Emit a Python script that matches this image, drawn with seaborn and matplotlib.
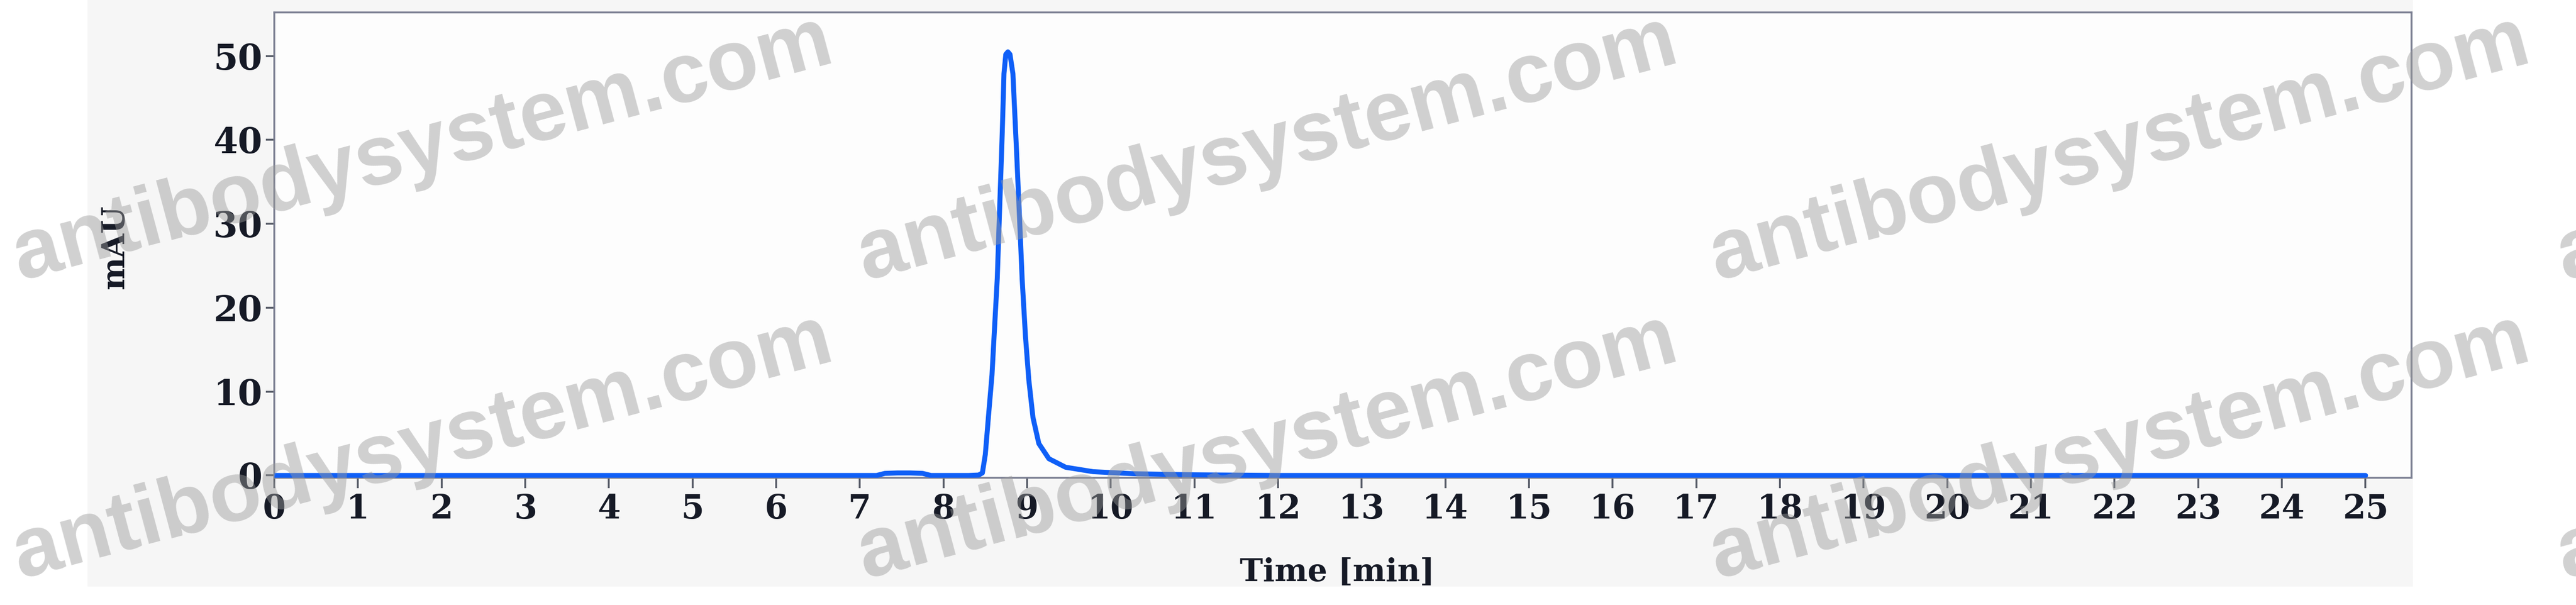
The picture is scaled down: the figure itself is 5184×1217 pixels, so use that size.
import matplotlib
matplotlib.use("Agg")
import matplotlib.pyplot as plt
from matplotlib.patches import Rectangle
import seaborn as sns
import pandas as pd

# ---- data ----
time_min = [0.0, 7.20, 7.30, 7.45, 7.60, 7.75, 7.85, 8.30, 8.42, 8.465, 8.50,
            8.545, 8.58, 8.605, 8.643, 8.673, 8.703, 8.723, 8.745, 8.77, 8.795,
            8.83, 8.871, 8.91, 8.94, 8.98, 9.02, 9.07, 9.14, 9.26, 9.46, 9.79,
            10.29, 11.0, 12.0, 25.0]
mau = [0.0, 0.0, 0.25, 0.30, 0.30, 0.25, 0.0, 0.0, 0.05, 0.3, 2.5,
       7.9, 12.0, 16.6, 23.5, 32.3, 41.0, 47.9, 50.2, 50.5, 50.2,
       47.9, 39.2, 30.5, 23.5, 16.6, 11.4, 6.9, 3.8, 2.0, 0.98, 0.45,
       0.2, 0.08, 0.0, 0.0]
x_ticks = list(range(0, 26))
y_ticks = [0, 10, 20, 30, 40, 50]
x_label = "Time [min]"
y_label = "mAU"
watermark = "antibodysystem.com"

df = pd.DataFrame({"time": time_min, "mau": mau})

sns.set_theme(style="white")
plt.rcParams["font.family"] = ["DejaVu Serif"]

W, H, DPI = 5184, 1217, 300
fig = plt.figure(figsize=(W / DPI, H / DPI), dpi=DPI, facecolor="white")

# light grey backdrop behind the chart area
fig.patches.append(Rectangle((176 / W, 1 - 1180 / H), (4856 - 176) / W, 1180 / H,
                             transform=fig.transFigure, facecolor="#f6f6f6",
                             edgecolor="none", zorder=-5))

ax = fig.add_axes([552 / W, 1 - 961 / H, (4853 - 552) / W, (961 - 25) / H])
ax.set_facecolor("#fdfdfd")

line_color = "#0f5ff7"
sns.lineplot(data=df, x="time", y="mau", ax=ax, color=line_color,
             linewidth=2.4, estimator=None, sort=False, zorder=3)

ax.set_xlim(0, 25.55)
ax.set_ylim(-0.27, 55.2)
ax.set_xticks(x_ticks)
ax.set_yticks(y_ticks)
ax.set_xticklabels([str(t) for t in x_ticks])
ax.set_yticklabels([str(t) for t in y_ticks])

spine_color = "#7b7f92"
text_color = "#161a26"
for s in ax.spines.values():
    s.set_visible(True)
    s.set_color(spine_color)
    s.set_linewidth(0.9)

ax.tick_params(axis="x", direction="out", length=5, width=0.9, color="#555a66",
               pad=2.5, labelsize=16, labelcolor=text_color, bottom=True)
ax.tick_params(axis="y", direction="out", length=4, width=0.9, color="#555a66",
               pad=1.7, labelsize=17, labelcolor=text_color, left=True)
for lab in ax.get_xticklabels() + ax.get_yticklabels():
    lab.set_fontweight("bold")

ax.set_xlabel(x_label, fontsize=15, fontweight="bold", color=text_color)
ax.set_ylabel(y_label, fontsize=15, fontweight="bold", color=text_color)
ax.xaxis.set_label_coords((2691 - 552) / (4853 - 552), -(1120 - 961) / (961 - 25))
ax.yaxis.set_label_coords(-(552 - 262) / (4853 - 552), (961 - 496) / (961 - 25))

# watermark grid
wm_x = [850, 2550, 4265, 5970]
wm_y = [300, 900]
for yy in wm_y:
    for xx in wm_x:
        fig.text(xx / W, 1 - yy / H, watermark, fontsize=41, fontweight="bold",
                 family=["Liberation Sans", "DejaVu Sans"],
                 color="#9a9a9a", alpha=0.45, rotation=15,
                 rotation_mode="anchor", ha="center", va="center", zorder=10)

fig.savefig("out.png", dpi=DPI, facecolor="white")
